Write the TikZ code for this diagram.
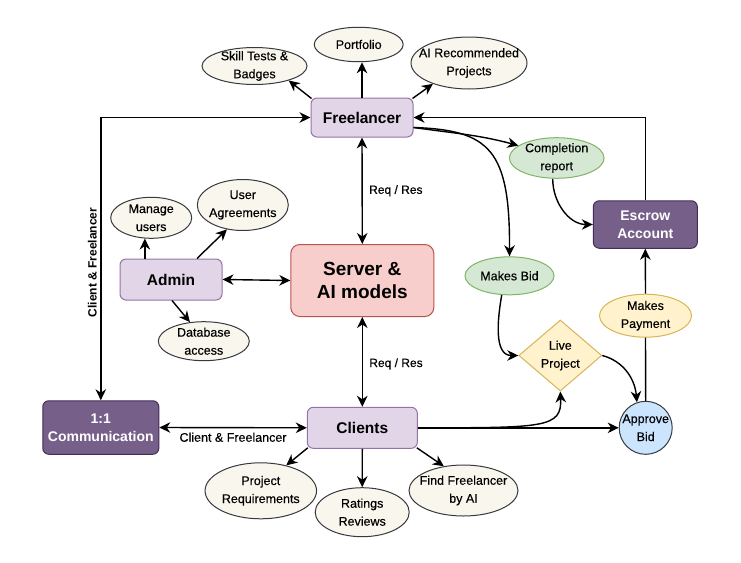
\documentclass[tikz,border=0pt]{standalone}
\usepackage{fontspec}
\setmainfont{Liberation Sans}
\newfontfamily\medfam{Liberation Sans}[FakeBold=0.35]
\usetikzlibrary{shapes.geometric,arrows.meta}
\definecolor{purF}{HTML}{E1D5E7}\definecolor{purD}{HTML}{9673A6}
\definecolor{redF}{HTML}{F8CECC}\definecolor{redD}{HTML}{B85450}
\definecolor{drkF}{HTML}{76608A}\definecolor{drkD}{HTML}{432D57}
\definecolor{grnF}{HTML}{D5E8D4}\definecolor{grnD}{HTML}{82B366}
\definecolor{ylwF}{HTML}{FFF2CC}\definecolor{ylwD}{HTML}{D6B656}
\definecolor{bluF}{HTML}{CCE5FF}\definecolor{greyD}{HTML}{36393D}
\definecolor{crmF}{HTML}{F9F7ED}
\newcommand\ellfnt{\medfam\fontsize{12.5}{18}\selectfont}
\newcommand\boxfnt{\fontsize{15.5}{18}\selectfont\bfseries}
\newcommand\drkfnt{\fontsize{14}{18}\selectfont\bfseries}
\newcommand\srvfnt{\fontsize{19}{23.5}\selectfont\bfseries}
\newcommand\edgfnt{\medfam\fontsize{12}{14}\selectfont}
\tikzset{
  box/.style={draw=purD, fill=purF, rounded corners=6pt, line width=1pt, inner sep=0pt, align=center, font=\boxfnt},
  srvbox/.style={draw=redD, fill=redF, rounded corners=9pt, line width=1pt, inner sep=0pt, align=center, font=\srvfnt},
  drkbox/.style={draw=drkD, fill=drkF, rounded corners=6pt, line width=1pt, inner sep=0pt, align=center, font=\drkfnt, text=white},
  ell/.style={ellipse, draw=greyD, fill=crmF, line width=1pt, inner sep=0pt},
  grnell/.style={ellipse, draw=grnD, fill=grnF, line width=1pt, inner sep=0pt},
  ylwell/.style={ellipse, draw=ylwD, fill=ylwF, line width=1pt, inner sep=0pt},
  lbl/.style={label={[font=\ellfnt,align=center,inner sep=0pt]center:#1}},
  arr/.style={-{Stealth[length=11pt,width=10.5pt,inset=3.5pt]}, line width=1.4pt},
  arrs/.style={{Stealth[length=11pt,width=10.5pt,inset=3.5pt]}-{Stealth[length=11pt,width=10.5pt,inset=3.5pt]}, line width=1.4pt},
  plain/.style={line width=1.4pt},
}
\begin{document}
\begin{tikzpicture}[x=1pt,y=-1pt]
\fill[white] (0,0) rectangle (741,562);
\useasboundingbox (0,0) rectangle (741,562);

% main boxes
\node[box, minimum width=102, minimum height=39] (fre) at (362,117.5) {Freelancer};
\node[box, minimum width=102, minimum height=41] (adm) at (171,279.5) {Admin};
\node[box, minimum width=110, minimum height=41] (cli) at (362.3,427.8) {Clients};
\node[srvbox, minimum width=143, minimum height=72] (srv) at (362.3,280.5) {Server \&\\AI models};
\node[drkbox, minimum width=116, minimum height=53.5] (com) at (100.8,427.5) {1:1\\Communication};
\node[drkbox, minimum width=104, minimum height=47.5] (esc) at (645.3,224.5) {Escrow\\Account};

% ellipses
\node[ell, minimum width=105, minimum height=37, lbl={Skill Tests \&\\Badges}] (sk) at (254.5,66) {};
\node[ell, minimum width=89, minimum height=34.5, lbl={Portfolio}] (port) at (358.7,44.5) {};
\node[ell, minimum width=116, minimum height=52, lbl={AI Recommended\\Projects}] (ai) at (469,63) {};
\node[ell, minimum width=81, minimum height=41, lbl={Manage\\users}] (man) at (151.2,217.8) {};
\node[ell, minimum width=91, minimum height=51, lbl={User\\Agreements}] (ua) at (242.8,205) {};
\node[ell, minimum width=91, minimum height=39, lbl={Database\\access}] (db) at (203.8,341.2) {};
\node[ell, minimum width=111.5, minimum height=56, lbl={Project\\Requirements}] (pr) at (260.8,490.8) {};
\node[ell, minimum width=94, minimum height=49, lbl={Ratings\\Reviews}] (rat) at (362.2,512.2) {};
\node[ell, minimum width=109, minimum height=51, lbl={Find Freelancer\\by AI}] (ff) at (463.5,490.5) {};
\node[grnell, minimum width=94.7, minimum height=40.6, lbl={Completion\\report}] (comp) at (556.7,158) {};
\node[grnell, minimum width=89, minimum height=38, lbl={Makes Bid}] (mb) at (509.5,275.8) {};
\node[ylwell, minimum width=92, minimum height=43, lbl={Makes\\Payment}] (mp) at (645.5,315.7) {};
\node[diamond, draw=ylwD, fill=ylwF, line width=1pt, inner sep=0pt, minimum width=83, minimum height=71, lbl={Live\\Project}] (live) at (560.3,355.5) {};
\node[circle, draw=greyD, fill=bluF, line width=1pt, inner sep=0pt, minimum size=53, lbl={Approve\\Bid}] (apb) at (645.7,427.8) {};

% freelancer satellites
\draw[arr] ([xshift=1pt,yshift=-1pt]fre.north west) -- (sk.-23);
\draw[arr] (fre.north) -- (fre.north |- port.south);
\draw[arr] ([xshift=-1pt,yshift=-1pt]fre.north east) -- (ai.-150);

% admin satellites
\draw[arr] (man.-107 |- adm.north) -- (man.-107);
\draw[arr] ([xshift=26pt]adm.north) -- (ua.-123);
\draw[arr] ([xshift=1pt]adm.south) -- (db.126);

% clients satellites
\draw[arr] ([xshift=1pt,yshift=1pt]cli.south west) -- (pr.45);
\draw[arr] (cli.south) -- (rat.north);
\draw[arr] ([xshift=-1pt,yshift=1pt]cli.south east) -- (ff.129);

% server links
\draw[arrs] (fre.south) -- node[right=3pt, font=\edgfnt] {Req / Res} (srv.north);
\draw[arrs] (srv.south) -- node[right=3pt, font=\edgfnt, yshift=-2pt] {Req / Res} (cli.north);
\draw[arrs] (adm.east) -- (srv.west);

% communication
\draw[arrs] (com.east) -- node[below=1pt, font=\medfam\fontsize{12.5}{14}\selectfont] {Client \& Freelancer} (cli.west);
\draw[arrs] (fre.west) -| node[pos=0.76, above=2pt, rotate=90, font=\fontsize{12}{14}\selectfont\bfseries] {Client \& Freelancer} (com.north);

% escrow flow
\draw[arr] (esc.north) |- (fre.east);
\draw[arr] ([yshift=-10pt]fre.east) to[out=-8, in=165] (comp.162);
\draw[arr] ([yshift=-10pt]fre.east) .. controls (490,130) and (510,150) .. (mb.north);
\draw[arr] ([xshift=-4pt]comp.south) to[out=-90, in=180] (esc.west);
\draw[arr] (mb.-112) to[out=-100, in=180] (live.west);
\draw[arr] (live.east) to[out=-15, in=95] (apb.109);
\draw[arr] (cli.east) .. controls (545,427.8) and (562,428) .. (live.south);
\draw[arr] (cli.east) -- (apb.west);
\draw[plain] (apb.north) -- (mp.south);
\draw[arr] (mp.north) -- (esc.south);
\end{tikzpicture}
\end{document}
